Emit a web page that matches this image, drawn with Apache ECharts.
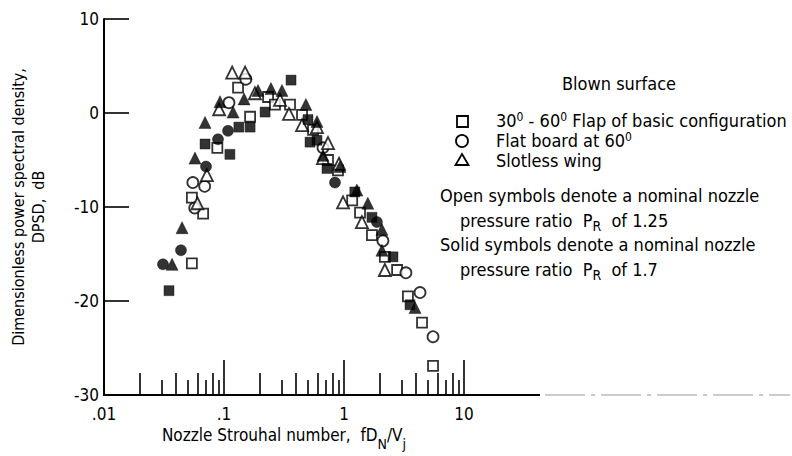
<!DOCTYPE html>
<html><head><meta charset="utf-8">
<script src="https://cdn.jsdelivr.net/npm/echarts@6/dist/echarts.min.js"></script>
<style>html,body{margin:0;padding:0;background:#fff}#c{width:792px;height:456px}</style>
</head><body><div id="c"></div>
<script>
// ---- data (Strouhal number, DPSD dB) ----
const openSquare = [[0.054,-9.0],[0.067,-10.7],[0.054,-16.0],[0.088,-3.7],[0.131,2.7],[0.165,-0.4],[0.233,1.7],[0.266,0.9],[0.355,0.9],[0.447,-0.2],[0.552,-1.8],[0.736,-5.0],[0.891,-6.1],[1.17,-9.3],[1.36,-10.6],[1.71,-13.0],[2.19,-15.3],[2.77,-16.7],[3.41,-19.5],[4.47,-22.3],[5.52,-26.9]];
const openCircle = [[0.055,-7.4],[0.069,-7.8],[0.057,-10.1],[0.110,1.1],[0.152,3.6],[0.668,-3.7],[2.11,-13.6],[3.28,-17.0],[4.30,-19.1],[5.52,-23.8]];
const openTriangle = [[0.117,4.3],[0.150,4.3],[0.072,-6.6],[0.060,-9.6],[0.091,0.4],[0.181,2.1],[0.293,1.4],[0.348,-0.1],[0.447,-1.3],[0.596,-1.5],[0.736,-3.2],[0.668,-4.8],[0.909,-5.4],[0.982,-9.5],[1.41,-11.6],[2.19,-16.7]];
const filledSquare = [[0.0348,-18.9],[0.0695,-3.3],[0.112,-4.4],[0.133,-1.5],[0.165,-1.5],[0.22,0.1],[0.362,3.5],[0.501,-0.7],[0.521,-3.1],[0.596,-2.9],[0.722,-5.9],[1.23,-8.4],[1.71,-11.1],[2.56,-15.3],[3.55,-20.4]];
const filledCircle = [[0.0708,-5.7],[0.0438,-14.6],[0.031,-16.1],[0.0891,-2.8],[0.108,-1.9],[0.841,-7.4],[1.88,-11.6]];
const filledTriangle = [[0.0369,-16.1],[0.0447,-12.2],[0.0573,-4.8],[0.0695,-1.0],[0.0926,1.2],[0.119,0.1],[0.147,1.5],[0.192,2.4],[0.246,2.6],[0.304,2.4],[0.481,0.9],[0.596,-0.9],[0.668,-4.5],[0.926,-5.7],[1.28,-8.2],[1.58,-9.6],[2.07,-12.4],[2.07,-14.6],[3.91,-20.7]];

// ---- ticks ----
const xLabelValues = [0.01, 0.1, 1, 10];
const xLabelTexts = ['.01', '.1', '1', '10'];
const xMajorTicks = [0.1, 1, 10];
const xMinorLong = [0.02,0.04,0.06,0.08,0.2,0.4,0.6,0.8,2,4,6,8];
const xMinorShort = [0.03,0.05,0.07,0.09,0.3,0.5,0.7,0.9,3,5,7,9];
const yTicks = [-30, -20, -10, 0, 10];

const FONT = '"DejaVu Sans Condensed","Liberation Sans Narrow","DejaVu Sans",sans-serif';
const chart = echarts.init(document.getElementById('c'), null, {renderer: 'svg'});

function baseX(extra) {
  return Object.assign({
    type: 'log', logBase: 10, min: 0.01, max: 10, gridIndex: 0, position: 'bottom',
    splitLine: {show: false}, axisLine: {show: false, onZero: false}, axisLabel: {show: false},
    axisTick: {show: false}, minorTick: {show: false}
  }, extra);
}
const tickStyle = {color: '#000', width: 1.6};

function sym(name, filled) {
  return {
    symbol: name,
    itemStyle: filled ? {color: '#000', borderColor: '#000', borderWidth: 0.5}
                      : {color: '#fff', borderColor: '#000', borderWidth: 1.8}
  };
}
function scatter(data, shape, filled, size) {
  return Object.assign({type: 'scatter', data: data, symbolSize: size, xAxisIndex: 0, yAxisIndex: 0, z: filled ? 3 : 2}, sym(shape, filled));
}

const option = {
  backgroundColor: '#fff',
  animation: false,
  grid: {left: 104, right: 328, top: 19, bottom: 61},
  xAxis: [
    baseX({
      axisLine: {show: true, onZero: false, lineStyle: {color: '#000', width: 2}},
      axisTick: {show: true, inside: true, length: 35, lineStyle: tickStyle, customValues: xMajorTicks},
      axisLabel: {show: true, customValues: xLabelValues, margin: 10, color: '#000', fontSize: 17, fontFamily: FONT,
        formatter: v => { const i = xLabelValues.findIndex(t => Math.abs(t - v) / t < 1e-6); return i >= 0 ? xLabelTexts[i] : ''; }},
      name: '{n|Nozzle Strouhal number,  fD}{s|N}{n|/V}{s|j}',
      nameLocation: 'middle', nameGap: 30,
      nameTextStyle: {rich: {
        n: {fontSize: 17, fontFamily: FONT, color: '#000', verticalAlign: 'top', lineHeight: 24},
        s: {fontSize: 14, fontFamily: FONT, color: '#000', verticalAlign: 'bottom', lineHeight: 24}
      }}
    }),
    baseX({axisTick: {show: true, inside: true, length: 22, lineStyle: tickStyle, customValues: xMinorLong}}),
    baseX({axisTick: {show: true, inside: true, length: 15, lineStyle: tickStyle, customValues: xMinorShort}})
  ],
  yAxis: {
    type: 'value', min: -30, max: 10, interval: 10,
    splitLine: {show: false},
    axisLine: {show: true, onZero: false, lineStyle: {color: '#000', width: 2}},
    axisTick: {show: true, inside: true, length: 25, lineStyle: tickStyle},
    axisLabel: {color: '#000', fontSize: 17, fontFamily: FONT, margin: 5,
      formatter: v => { const i = yTicks.indexOf(v); return i >= 0 ? String(yTicks[i]) : ''; }},
    name: 'Dimensionless power spectral density,\nDPSD,  dB',
    nameLocation: 'middle', nameGap: 56,
    nameTextStyle: {color: '#000', fontSize: 16, fontFamily: FONT, lineHeight: 20}
  },
  series: [
    scatter(openSquare, 'rect', false, 10),
    scatter(openCircle, 'circle', false, 11),
    scatter(openTriangle, 'triangle', false, 12),
    scatter(filledSquare, 'rect', true, 10),
    scatter(filledCircle, 'circle', true, 11),
    scatter(filledTriangle, 'triangle', true, 12)
  ]
};
chart.setOption(option);

// ---- legend / annotation block and scanned axis-line continuation ----
const end = chart.convertToPixel({xAxisIndex: 0, yAxisIndex: 0}, [10, -30]);
const LF = '18px ' + FONT;
const richStyle = {
  n: {fontSize: 18, fontFamily: FONT, color: '#000', verticalAlign: 'top', lineHeight: 22},
  s: {fontSize: 14, fontFamily: FONT, color: '#000', verticalAlign: 'bottom', lineHeight: 22},
  u: {fontSize: 12, fontFamily: FONT, color: '#000', verticalAlign: 'top', lineHeight: 22}
};
chart.setOption({
  graphic: [
    {type: 'line', shape: {x1: end[0], y1: end[1], x2: 540, y2: end[1]}, style: {stroke: '#000', lineWidth: 2}},
    {type: 'line', shape: {x1: 545, y1: end[1], x2: 790, y2: end[1]}, style: {stroke: '#999', lineWidth: 1.2, lineDash: [40, 6, 4, 6]}},
    {type: 'text', left: 562, top: 74, style: {text: 'Blown surface', fill: '#000', font: LF}},
    {type: 'rect', shape: {x: 457, y: 116, width: 11, height: 11}, style: {fill: '#fff', stroke: '#000', lineWidth: 1.8}},
    {type: 'circle', shape: {cx: 462, cy: 141, r: 6}, style: {fill: '#fff', stroke: '#000', lineWidth: 1.8}},
    {type: 'polygon', shape: {points: [[462, 154], [468.5, 165], [455.5, 165]]}, style: {fill: '#fff', stroke: '#000', lineWidth: 1.8}},
    {type: 'text', left: 496, top: 111, style: {text: '{n|30}{u|0}{n| - 60}{u|0}{n| Flap of basic configuration}', rich: richStyle}},
    {type: 'text', left: 496, top: 131, style: {text: '{n|Flat board at 60}{u|0}', rich: richStyle}},
    {type: 'text', left: 496, top: 151, style: {text: 'Slotless wing', fill: '#000', font: LF}},
    {type: 'text', left: 440, top: 186, style: {text: 'Open symbols denote a nominal nozzle', fill: '#000', font: LF}},
    {type: 'text', left: 460, top: 211, style: {text: '{n|pressure ratio  P}{s|R}{n|  of 1.25}', rich: richStyle}},
    {type: 'text', left: 440, top: 235, style: {text: 'Solid symbols denote a nominal nozzle', fill: '#000', font: LF}},
    {type: 'text', left: 460, top: 260, style: {text: '{n|pressure ratio  P}{s|R}{n|  of 1.7}', rich: richStyle}}
  ]
});
</script>
</body></html>
